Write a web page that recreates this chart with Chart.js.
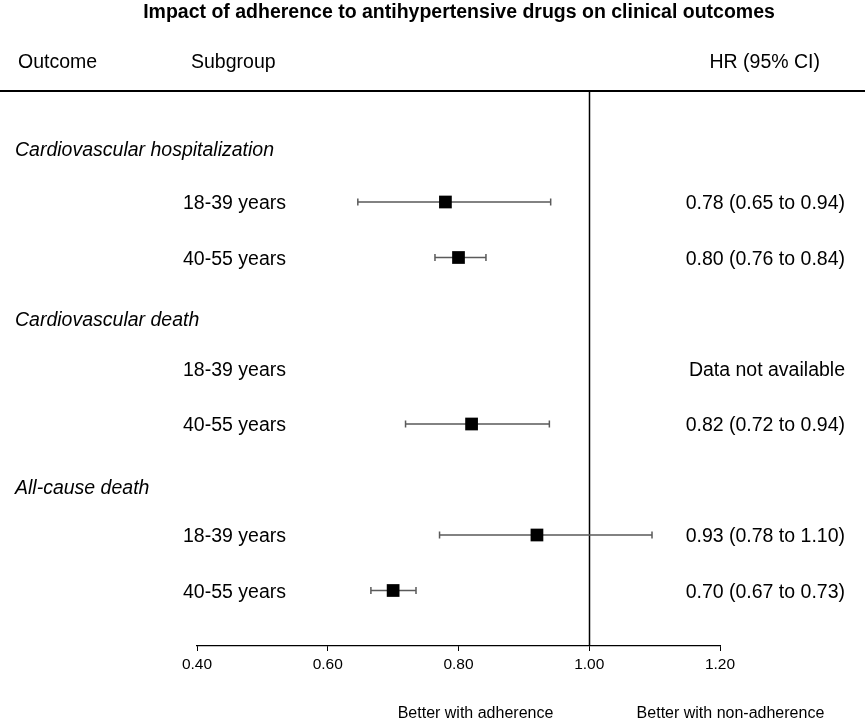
<!DOCTYPE html>
<html>
<head>
<meta charset="utf-8">
<script src="https://cdn.jsdelivr.net/npm/chart.js@4.4.1/dist/chart.umd.min.js"></script>
<style>
  html, body { margin: 0; padding: 0; background: #fff; }
  #wrap { position: relative; width: 865px; height: 722px; }
</style>
</head>
<body>
<div id="wrap"><canvas id="forest"></canvas></div>
<script>
const chartTitle = 'Impact of adherence to antihypertensive drugs on clinical outcomes'
const outcomes = ['Cardiovascular hospitalization', 'Cardiovascular death', 'All-cause death']
const subgroups = ['18-39 years', '40-55 years', '18-39 years', '40-55 years', '18-39 years', '40-55 years']
const rowOutcome = [0, 0, 1, 1, 2, 2]
const rowPos = [1, 2, 4, 5, 7, 8]
const hr = [0.78, 0.80, null, 0.82, 0.92, 0.70]
const lower = [0.646, 0.764, null, 0.719, 0.771, 0.666]
const upper = [0.941, 0.842, null, 0.939, 1.096, 0.735]
const hrText = ['0.78 (0.65 to 0.94)', '0.80 (0.76 to 0.84)', 'Data not available',
                '0.82 (0.72 to 0.94)', '0.93 (0.78 to 1.10)', '0.70 (0.67 to 0.73)']
const xTicks = [0.40, 0.60, 0.80, 1.00, 1.20]
const favourLabels = ['Better with adherence', 'Better with non-adherence']

const FONT = '"Liberation Sans", Arial, Helvetica, sans-serif'
// how far each outcome heading sits above its first row (in row units)
const headingLift = [0.93, 0.87, 0.83]

// whiskers for the confidence intervals, drawn under the squares
const whiskers = {
  id: 'whiskers',
  beforeDatasetsDraw(chart) {
    const { ctx, scales: { x, y } } = chart
    ctx.save()
    ctx.strokeStyle = '#5a5a5a'
    ctx.lineWidth = 1.5
    hr.forEach((v, i) => {
      if (v === null) return
      const py = y.getPixelForValue(rowPos[i])
      const x0 = x.getPixelForValue(lower[i])
      const x1 = x.getPixelForValue(upper[i])
      ctx.beginPath()
      ctx.moveTo(x0, py); ctx.lineTo(x1, py)
      ctx.moveTo(x0, py - 3.5); ctx.lineTo(x0, py + 3.5)
      ctx.moveTo(x1, py - 3.5); ctx.lineTo(x1, py + 3.5)
      ctx.stroke()
    })
    ctx.restore()
  }
}

// table text, header rule and reference line
const table = {
  id: 'table',
  beforeDraw(chart) {
    const { ctx, chartArea, scales: { x } } = chart
    ctx.save()
    ctx.strokeStyle = '#000'
    ctx.lineWidth = 1.5
    const ref = Math.round(x.getPixelForValue(1)) + 0.5
    ctx.beginPath()
    ctx.moveTo(ref, chartArea.top); ctx.lineTo(ref, chartArea.bottom)
    ctx.stroke()
    ctx.lineWidth = 2
    ctx.beginPath()
    ctx.moveTo(0, chartArea.top); ctx.lineTo(chart.width, chartArea.top)
    ctx.stroke()
    ctx.restore()
  },
  afterDraw(chart) {
    const { ctx, scales: { x, y } } = chart
    ctx.save()
    ctx.fillStyle = '#000'
    ctx.textBaseline = 'middle'

    ctx.font = `bold 19.5px ${FONT}`
    ctx.textAlign = 'center'
    ctx.fillText(chartTitle, 459, 13)

    ctx.font = `19.5px ${FONT}`
    ctx.textAlign = 'left'
    ctx.fillText('Outcome', 18, 63)
    ctx.fillText('Subgroup', 191, 63)
    ctx.textAlign = 'right'
    ctx.fillText('HR (95% CI)', 820, 63)

    outcomes.forEach((name, k) => {
      const first = rowOutcome.indexOf(k)
      ctx.font = `italic 19.5px ${FONT}`
      ctx.textAlign = 'left'
      ctx.fillText(name, 15, y.getPixelForValue(rowPos[first] - headingLift[k]))
    })

    subgroups.forEach((s, i) => {
      const py = y.getPixelForValue(rowPos[i]) + 2
      ctx.font = `19.5px ${FONT}`
      ctx.textAlign = 'left'
      ctx.fillText(s, 183, py)
      ctx.textAlign = 'right'
      ctx.fillText(hrText[i], 845, py)
    })

    ctx.font = `16px ${FONT}`
    ctx.textAlign = 'center'
    ctx.fillText(favourLabels[0], x.getPixelForValue(0.826), 714)
    ctx.fillText(favourLabels[1], x.getPixelForValue(1.216), 714)
    ctx.restore()
  }
}

new Chart(document.getElementById('forest'), {
  type: 'scatter',
  data: {
    datasets: [{
      data: hr.map((v, i) => v === null ? null : { x: v, y: rowPos[i] }).filter(p => p),
      pointStyle: 'rect',
      pointRadius: 9,
      backgroundColor: '#000',
      borderColor: '#000',
      borderWidth: 0
    }]
  },
  options: {
    responsive: true,
    maintainAspectRatio: false,
    animation: false,
    layout: { padding: { left: 197, right: 145, top: 91, bottom: 45 } },
    plugins: { legend: { display: false }, tooltip: { enabled: false } },
    scales: {
      x: {
        type: 'linear',
        min: 0.4,
        max: 1.2,
        afterBuildTicks: (scale) => { scale.ticks = xTicks.map(v => ({ value: v })) },
        afterFit: (scale) => { scale.height = 31 },
        ticks: {
          callback: (v) => Number(v).toFixed(2),
          color: '#000',
          font: { family: FONT, size: 15.5 },
          padding: 4,
          maxRotation: 0
        },
        grid: { drawOnChartArea: false, drawTicks: true, tickLength: 5, color: '#000' },
        border: { display: true, color: '#000', width: 1.2 }
      },
      y: {
        type: 'linear',
        reverse: true,
        min: -1,
        max: 9,
        display: false
      }
    }
  },
  plugins: [whiskers, table]
})
</script>
</body>
</html>
